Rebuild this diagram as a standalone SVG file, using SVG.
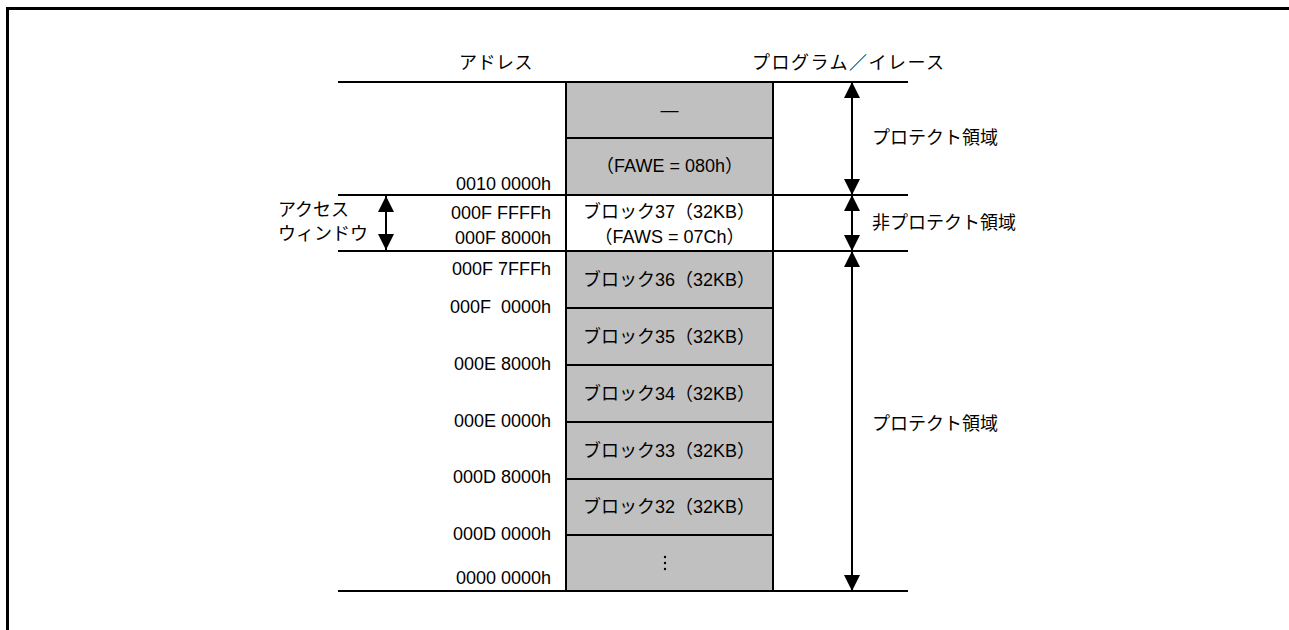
<svg xmlns="http://www.w3.org/2000/svg" width="1289" height="630" viewBox="0 0 1289 630">
<style>
text{font-family:"Liberation Sans","Noto Sans CJK JP",sans-serif;font-size:18px;fill:#000;white-space:pre}
.addr{text-anchor:end}
.mid{text-anchor:middle}
.cell{stroke:#000;stroke-width:2}
.gray{fill:#c0c0c0}
.white{fill:#fff}
.ln{stroke:#000;stroke-width:2;fill:none}
.shaft{stroke:#000;stroke-width:2}
</style>
<defs>
<marker id="ah" viewBox="0 0 16 16" refX="16" refY="8" markerWidth="16" markerHeight="16" markerUnits="userSpaceOnUse" orient="auto-start-reverse">
<path d="M0,0 L16,8 L0,16 Z" fill="#000"/>
</marker>
</defs>
<rect width="1289" height="630" fill="#fff"/>
<path d="M7.5,630 V8.5 H1289" fill="none" stroke="#000" stroke-width="3"/>

<g id="headers">
<text x="459" y="69" letter-spacing="0.5">アドレス</text>
<text x="752" y="69" letter-spacing="1.5">プログラム／イレース</text>
</g>

<g id="memory-map">
<g id="row-top"><rect class="cell gray" x="566" y="82" width="207" height="56"/><text class="mid" x="669.5" y="116">—</text></g>
<g id="row-fawe"><rect class="cell gray" x="566" y="138" width="207" height="57"/><text class="mid" x="669.5" y="172">（FAWE = 080h）</text></g>
<g id="block37"><rect class="cell white" x="566" y="195" width="207" height="56"/><text class="mid" x="669" y="217.5">ブロック37（32KB）</text><text class="mid" x="669.5" y="243">（FAWS = 07Ch）</text></g>
<g id="block36"><rect class="cell gray" x="566" y="251" width="207" height="57"/><text class="mid" x="669" y="286">ブロック36（32KB）</text></g>
<g id="block35"><rect class="cell gray" x="566" y="308" width="207" height="57"/><text class="mid" x="669" y="343">ブロック35（32KB）</text></g>
<g id="block34"><rect class="cell gray" x="566" y="365" width="207" height="57"/><text class="mid" x="669" y="400">ブロック34（32KB）</text></g>
<g id="block33"><rect class="cell gray" x="566" y="422" width="207" height="57"/><text class="mid" x="669" y="457">ブロック33（32KB）</text></g>
<g id="block32"><rect class="cell gray" x="566" y="479" width="207" height="56"/><text class="mid" x="669" y="513">ブロック32（32KB）</text></g>
<g id="row-rest"><rect class="cell gray" x="566" y="535" width="207" height="56"/>
<circle cx="665" cy="557" r="1.2" fill="#000"/><circle cx="665" cy="563" r="1.2" fill="#000"/><circle cx="665" cy="569" r="1.2" fill="#000"/></g>
</g>

<g id="addresses">
<text class="addr" x="551" y="190">0010 0000h</text>
<text class="addr" x="551" y="219">000F FFFFh</text>
<text class="addr" x="551" y="244">000F 8000h</text>
<text class="addr" x="551" y="275">000F 7FFFh</text>
<text class="addr" x="551" y="313">000F  0000h</text>
<text class="addr" x="551" y="370">000E 8000h</text>
<text class="addr" x="551" y="427">000E 0000h</text>
<text class="addr" x="551" y="483">000D 8000h</text>
<text class="addr" x="551" y="540">000D 0000h</text>
<text class="addr" x="551" y="584">0000 0000h</text>
</g>

<g id="access-window">
<text x="278" y="216">アクセス</text>
<text x="278" y="239.5">ウィンドウ</text>
</g>

<g id="region-labels">
<text x="872" y="144">プロテクト領域</text>
<text x="872" y="229">非プロテクト領域</text>
<text x="872" y="430">プロテクト領域</text>
</g>

<g id="connectors">
<line class="ln" x1="338" y1="82" x2="908" y2="82"/>
<line class="ln" x1="338" y1="195" x2="908" y2="195"/>
<line class="ln" x1="338" y1="251" x2="908" y2="251"/>
<line class="ln" x1="338" y1="591" x2="908" y2="591"/>
<line class="shaft" x1="852" y1="82" x2="852" y2="195" marker-start="url(#ah)" marker-end="url(#ah)"/>
<line class="shaft" x1="852" y1="195" x2="852" y2="251" marker-start="url(#ah)" marker-end="url(#ah)"/>
<line class="shaft" x1="852" y1="251" x2="852" y2="591" marker-start="url(#ah)" marker-end="url(#ah)"/>
<line class="shaft" x1="386" y1="196" x2="386" y2="250" marker-start="url(#ah)" marker-end="url(#ah)"/>
</g>
</svg>
